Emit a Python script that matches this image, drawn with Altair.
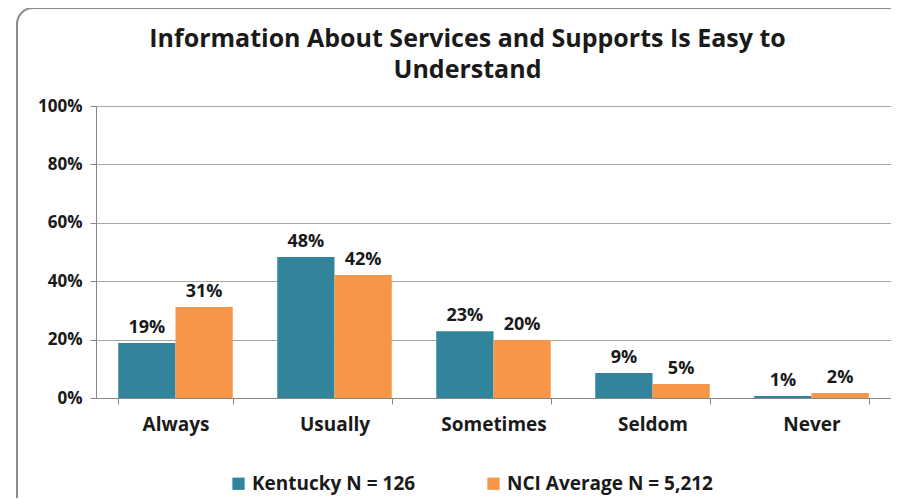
import altair as alt
import pandas as pd

categories = ["Always", "Usually", "Sometimes", "Seldom", "Never"]
series = ["Kentucky N = 126", "NCI Average N = 5,212"]
kentucky = [18.8, 48.3, 22.9, 8.6, 0.7]
nci = [31.2, 42.1, 19.9, 4.8, 1.7]
kentucky_labels = ["19%", "48%", "23%", "9%", "1%"]
nci_labels = ["31%", "42%", "20%", "5%", "2%"]
colors = ["#31849B", "#F79646"]

rows = []
for i, c in enumerate(categories):
    rows.append({"cat": c, "series": series[0], "value": kentucky[i], "label": kentucky_labels[i]})
    rows.append({"cat": c, "series": series[1], "value": nci[i], "label": nci_labels[i]})
df = pd.DataFrame(rows)

FONT = "Open Sans"

x = alt.X("cat:N", sort=categories, title=None,
          scale=alt.Scale(paddingInner=0.28, paddingOuter=0.14),
          axis=alt.Axis(labelAngle=0, labelFontSize=19, labelFontWeight="bold",
                        labelColor="#1a1a1a", labelPadding=11, tickBand="extent",
                        tickSize=6, tickColor="#888888", domainColor="#888888",
                        labelFont=FONT))
xoff = alt.XOffset("series:N", sort=series)
y = alt.Y("value:Q", title=None,
          scale=alt.Scale(domain=[0, 100]),
          axis=alt.Axis(values=[0, 20, 40, 60, 80, 100], labelExpr="datum.value + '%'",
                        labelFontSize=17, labelFontWeight="bold", labelColor="#1a1a1a",
                        labelPadding=8, tickSize=6, tickColor="#888888",
                        domainColor="#888888", gridColor="#a6a6a6", labelFont=FONT))

bars = alt.Chart(df).mark_bar().encode(
    x=x, xOffset=xoff, y=y,
    color=alt.Color("series:N", sort=series,
                    scale=alt.Scale(domain=series, range=colors),
                    legend=alt.Legend(title=None, orient="none", direction="horizontal",
                                      legendX=133, legendY=368, symbolType="square",
                                      symbolSize=150, symbolStrokeWidth=0,
                                      labelFontSize=19, labelFontWeight="bold",
                                      labelColor="#1a1a1a", labelFont=FONT,
                                      columnPadding=68, labelLimit=400)),
)

labels = alt.Chart(df).mark_text(dy=-15, fontSize=18, fontWeight="bold",
                                 color="#1a1a1a", font=FONT).encode(
    x=x, xOffset=xoff, y=y, text="label:N")

frame = alt.Chart(alt.Data(values=[{}])).mark_rect(
    fill="transparent", stroke="#8c8c8c", strokeWidth=2, cornerRadius=16
).encode(x=alt.value(-79), x2=alt.value(830), y=alt.value(-98), y2=alt.value(420))

chart = alt.layer(frame, bars, labels).properties(
    width=795, height=292,
    title=alt.TitleParams(["Information About Services and Supports Is Easy to", "Understand"],
                          fontSize=25, fontWeight="bold", font=FONT, color="#1a1a1a",
                          dx=-26, offset=-76, lineHeight=31),
    autosize=alt.AutoSizeParams(type="none"),
    padding={"left": 88, "top": 98, "right": 0, "bottom": 100},
).configure_view(fill="#ebebeb", stroke=None).configure(background="white")

chart.save("out.html", embed_options={"renderer": "svg", "actions": False})
